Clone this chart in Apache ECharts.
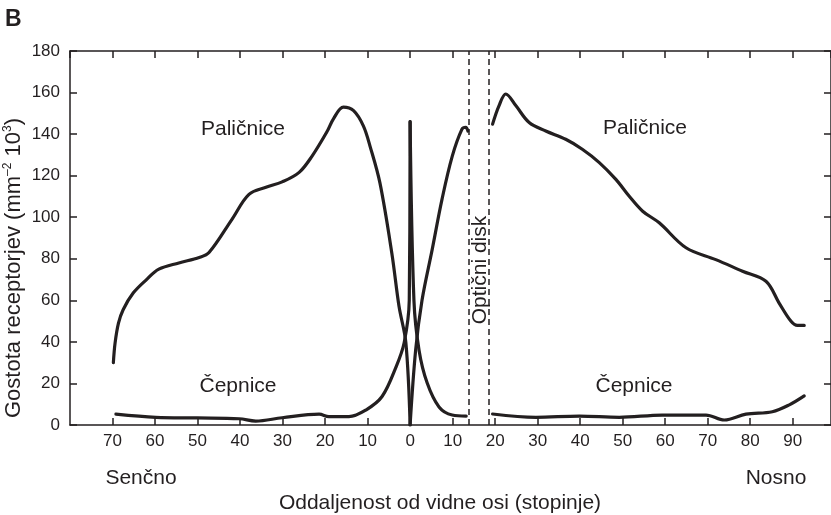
<!DOCTYPE html>
<html>
<head>
<meta charset="utf-8">
<script src="https://cdn.jsdelivr.net/npm/echarts@6/dist/echarts.min.js"></script>
<style>
  html, body { margin: 0; padding: 0; background: #ffffff; }
  #chart { width: 831px; height: 515px; }
</style>
</head>
<body>
<div id="chart"></div>
<script>
// ---- Data (x: degrees from visual axis; temporal side negative, nasal positive) ----
const rodsTemporal = [
  [-69.8, 30], [-69.4, 39.4], [-68.6, 49], [-67.5, 55.5], [-65.1, 63.6], [-62, 70],
  [-59.1, 75], [-54.4, 78], [-49.6, 80.6], [-47.3, 83], [-41.9, 99], [-37.9, 111],
  [-33.9, 114.4], [-30.1, 117], [-26.1, 121.6], [-23.1, 129.3], [-19.6, 141], [-18, 147.5],
  [-15.7, 153], [-13.3, 151.3], [-11, 144], [-9.4, 134], [-7.1, 116.5], [-4.3, 82.7],
  [-2.6, 57], [-1.0, 39.6], [0, 0]
];
const rodsNasalNear = [
  [0, 0], [1.3, 36], [2.8, 60], [5.2, 84.5], [7.5, 108.6], [9.9, 129.3],
  [12.2, 142.4], [13.1, 143.3], [13.6, 141.5]
];
const rodsNasalFar = [
  [19.4, 144.8], [20.9, 153.6], [22.5, 159.3], [24.9, 153.6], [28, 145.6], [31.9, 141.5],
  [36.6, 137.5], [40.5, 132.7], [44.5, 126.3], [48.4, 118.2], [51.5, 110.2], [54.7, 102.9],
  [58.6, 97.3], [64.9, 85.3], [71.9, 79.6], [78.2, 74], [83.7, 69.2], [86.8, 58.7],
  [89.6, 49.9], [91.1, 47.9], [92.7, 47.9]
];
const conesTemporal = [
  [-69.2, 5.2], [-59.8, 3.7], [-50.1, 3.4], [-40.2, 3.0], [-36.3, 1.9], [-30.1, 3.5],
  [-21.4, 5.2], [-19.1, 4.0], [-14.4, 4.0], [-10.4, 7.2], [-6.6, 13.7], [-3.3, 28],
  [-1.4, 39.6], [-0.2, 60], [0, 146]
];
const conesNasalNear = [
  [0, 146], [0.9, 60], [2.1, 36], [4.0, 20.3], [6.8, 8.7], [9.9, 4.8], [13.2, 4.3]
];
const conesNasalFar = [
  [19.4, 5.3], [29.6, 3.7], [39.8, 4.3], [49.2, 3.7], [59.3, 4.8], [69.6, 4.8],
  [73.9, 2.4], [79, 5.2], [85.2, 6.4], [89.2, 9.7], [92.7, 14]
];
const opticDiskEdges = [13.9, 18.6];
const xTickValues = [-70, -60, -50, -40, -30, -20, -10, 0, 10, 20, 30, 40, 50, 60, 70, 80, 90];
const xTickLabels = ['70', '60', '50', '40', '30', '20', '10', '0', '10', '20', '30', '40', '50', '60', '70', '80', '90'];

// ---- Chart ----
const INK = '#231f20';
const FONT = '"Liberation Sans", Arial, Helvetica, sans-serif';
const chart = echarts.init(document.getElementById('chart'), null, { renderer: 'canvas' });

function lineSeries(data, extra) {
  return Object.assign({
    type: 'line',
    data: data,
    xAxisIndex: 0,
    yAxisIndex: 0,
    showSymbol: false,
    symbol: 'none',
    smooth: 0.35,
    lineStyle: { color: INK, width: 3.2, cap: 'round', join: 'round' },
    silent: true,
    z: 3
  }, extra || {});
}

const axisLineStyle = { color: INK, width: 1.5 };

const option = {
  animation: false,
  backgroundColor: '#ffffff',
  grid: { left: 70, top: 51, width: 761, height: 374, containLabel: false, outerBoundsMode: 'none' },
  xAxis: [
    {
      type: 'value', min: -80, max: 99, interval: 10, position: 'bottom',
      axisLine: { show: true, onZero: false, lineStyle: axisLineStyle },
      axisTick: { show: true, inside: true, length: 7, lineStyle: axisLineStyle },
      axisLabel: {
        show: true, margin: 8, fontSize: 17, fontFamily: FONT, color: INK,
        showMaxLabel: false, showMinLabel: false,
        formatter: function (v) {
          const i = xTickValues.indexOf(v);
          return i >= 0 ? xTickLabels[i] : '';
        }
      },
      splitLine: { show: false }
    },
    {
      type: 'value', min: -80, max: 99, interval: 10, position: 'top',
      axisLine: { show: true, onZero: false, lineStyle: axisLineStyle },
      axisTick: { show: true, inside: true, length: 7, lineStyle: axisLineStyle },
      axisLabel: { show: false },
      splitLine: { show: false }
    }
  ],
  yAxis: [
    {
      type: 'value', min: 0, max: 180, interval: 20, position: 'left',
      axisLine: { show: true, onZero: false, lineStyle: axisLineStyle },
      axisTick: { show: true, inside: true, length: 7, lineStyle: axisLineStyle },
      axisLabel: { show: true, margin: 10, fontSize: 17, fontFamily: FONT, color: INK },
      splitLine: { show: false }
    },
    {
      type: 'value', min: 0, max: 180, interval: 20, position: 'right',
      axisLine: { show: true, onZero: false, lineStyle: axisLineStyle },
      axisTick: { show: true, inside: true, length: 7, lineStyle: axisLineStyle },
      axisLabel: { show: false },
      splitLine: { show: false }
    }
  ],
  series: [
    lineSeries(rodsTemporal, {
      name: 'Paličnice temporal',
      markLine: {
        silent: true,
        symbol: ['none', 'none'],
        label: { show: false },
        lineStyle: { color: INK, width: 1.5, type: [6, 4] },
        data: opticDiskEdges.map(function (x) { return { xAxis: x }; })
      }
    }),
    lineSeries(rodsNasalNear, { name: 'Paličnice nasal near' }),
    lineSeries(rodsNasalFar, { name: 'Paličnice nasal' }),
    lineSeries(conesTemporal, { name: 'Čepnice temporal' }),
    lineSeries(conesNasalNear, { name: 'Čepnice nasal near' }),
    lineSeries(conesNasalFar, { name: 'Čepnice nasal' })
  ],
  graphic: [
    { type: 'text', silent: true, style: { text: 'B', x: 5, y: 20, font: 'bold 23px ' + FONT, fill: INK, align: 'left', verticalAlign: 'middle' } },
    { type: 'text', silent: true, style: { text: 'Paličnice', x: 243, y: 129, font: '21px ' + FONT, fill: INK, align: 'center', verticalAlign: 'middle' } },
    { type: 'text', silent: true, style: { text: 'Paličnice', x: 645, y: 128, font: '21px ' + FONT, fill: INK, align: 'center', verticalAlign: 'middle' } },
    { type: 'text', silent: true, style: { text: 'Čepnice', x: 238, y: 386, font: '21px ' + FONT, fill: INK, align: 'center', verticalAlign: 'middle' } },
    { type: 'text', silent: true, style: { text: 'Čepnice', x: 634, y: 386, font: '21px ' + FONT, fill: INK, align: 'center', verticalAlign: 'middle' } },
    { type: 'text', silent: true, style: { text: 'Senčno', x: 141, y: 478, font: '21px ' + FONT, fill: INK, align: 'center', verticalAlign: 'middle' } },
    { type: 'text', silent: true, style: { text: 'Nosno', x: 776, y: 478, font: '21px ' + FONT, fill: INK, align: 'center', verticalAlign: 'middle' } },
    { type: 'text', silent: true, style: { text: 'Oddaljenost od vidne osi (stopinje)', x: 440, y: 503, font: '21px ' + FONT, fill: INK, align: 'center', verticalAlign: 'middle' } },
    { type: 'text', silent: true, x: 480, y: 270, rotation: Math.PI / 2, style: { text: 'Optični disk', x: 0, y: 0, font: '21px ' + FONT, fill: INK, align: 'center', verticalAlign: 'middle' } },
    {
      type: 'text', silent: true, x: 14, y: 268, rotation: Math.PI / 2,
      style: {
        text: 'Gostota receptorjev (mm{sup|–2} 10{sup|3})',
        x: 0, y: 0, font: '22px ' + FONT, fill: INK, align: 'center', verticalAlign: 'middle',
        rich: {
          sup: { font: '12px ' + FONT, fill: INK, verticalAlign: 'top', lineHeight: 24 }
        },
        lineHeight: 24
      }
    }
  ]
};

chart.setOption(option);
</script>
</body>
</html>
